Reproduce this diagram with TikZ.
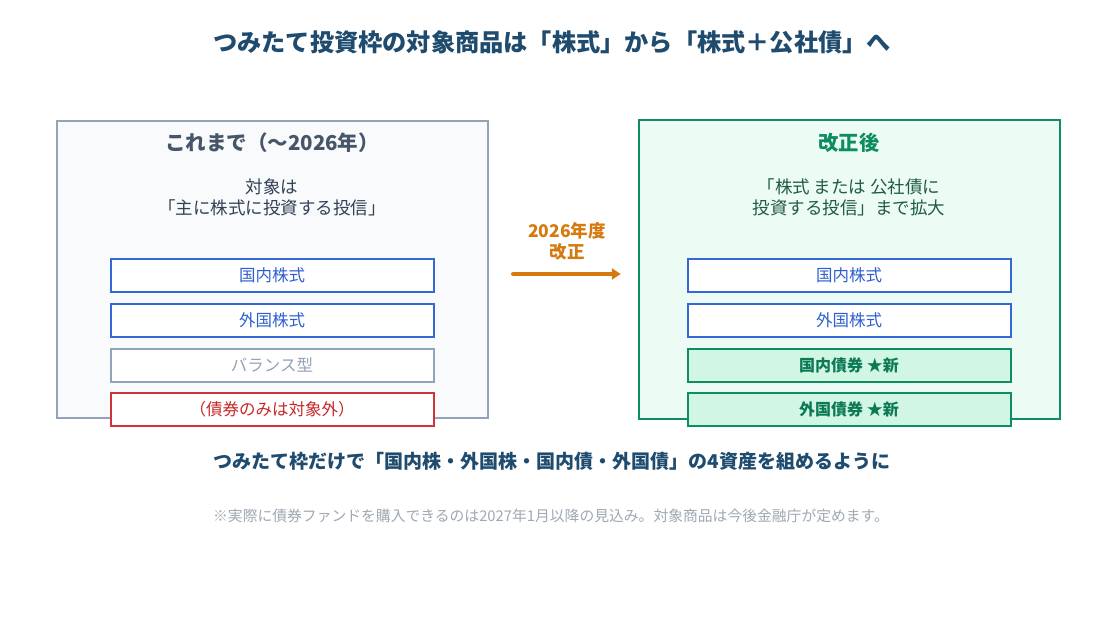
\documentclass[tikz,border=0pt]{standalone}
\usepackage{fontspec}
\setmainfont{Noto Sans CJK JP}
\usetikzlibrary{arrows.meta}
\definecolor{navy}{HTML}{1E4B6E}
\definecolor{lhead}{HTML}{475569}
\definecolor{ltext}{HTML}{334155}
\definecolor{grayb}{HTML}{94A3B8}
\definecolor{grayf}{HTML}{F8FAFC}
\definecolor{blueb}{HTML}{3567D6}
\definecolor{bluet}{HTML}{2F5FCF}
\definecolor{redb}{HTML}{D13438}
\definecolor{redt}{HTML}{C62828}
\definecolor{greenb}{HTML}{0E8C62}
\definecolor{greenf}{HTML}{ECFBF3}
\definecolor{greeni}{HTML}{D1F7E4}
\definecolor{greent}{HTML}{0D7A55}
\definecolor{rtext}{HTML}{1F5B44}
\definecolor{orange}{HTML}{D57A0F}
\definecolor{foot}{HTML}{A0A8B4}
\tikzset{
  panel/.style={draw, line width=2.5pt, minimum width=#1, inner sep=0pt},
  itembox/.style={draw, line width=2pt, fill=white, minimum width=323pt, minimum height=33pt, inner sep=0pt, font=\fontsize{16.5}{19}\selectfont},
  bluebox/.style={itembox, draw=blueb, text=bluet},
  newbox/.style={itembox, draw=greenb, fill=greeni, text=greent, font=\fontsize{16}{19}\selectfont\bfseries},
  bodytxt/.style={align=center, font=\fontsize{17.5}{21}\selectfont},
}
\begin{document}
\begin{tikzpicture}[x=1pt,y=-1pt]
\useasboundingbox (0,0) rectangle (1105,623);
\fill[white] (0,0) rectangle (1105,623);
\node[text=navy, font=\fontsize{24.2}{28}\selectfont\bfseries] (title) at (552,42) {つみたて投資枠の対象商品は「株式」から「株式＋公社債」へ};

% left panel
\node[panel=431pt, draw=grayb, fill=grayf, minimum height=297pt] (L) at (272.5,269.5) {};
\node[text=lhead, font=\fontsize{20.5}{24}\selectfont\bfseries] (Lh) at (272,143) {これまで（〜2026年）};
\node[bodytxt, text=ltext] (Lt) at (272,197) {対象は\\「主に株式に投資する投信」};
\node[bluebox] (L1) at (272,275.5) {国内株式};
\node[bluebox] (L2) at (272,320) {外国株式};
\node[itembox, draw=grayb, text=grayb] (L3) at (272,365) {バランス型};
\node[itembox, draw=redb, text=redt] (L4) at (272,409.5) {（債券のみは対象外）};

% right panel
\node[panel=421pt, draw=greenb, fill=greenf, minimum height=299pt] (R) at (849.5,269.5) {};
\node[text=greenb, font=\fontsize{20.3}{24}\selectfont\bfseries] (Rh) at (849,143) {改正後};
\node[bodytxt, text=rtext] (Rt) at (849,197) {「株式 または 公社債に\\投資する投信」まで拡大};
\node[bluebox] (R1) at (849,275.5) {国内株式};
\node[bluebox] (R2) at (849,320) {外国株式};
\node[newbox] (R3) at (849,365) {国内債券 ★新};
\node[newbox] (R4) at (849,409.5) {外国債券 ★新};

% arrow
\coordinate (A1) at ([xshift=24pt]L.east |- 0,274);
\coordinate (A2) at ([xshift=-17pt]R.west |- 0,274);
\draw[orange, line width=4.5pt, line cap=round, -{Triangle[length=9pt,width=11pt]}] (A1) -- (A2);
\node[text=orange, align=center, font=\fontsize{17.5}{21}\selectfont\bfseries] (Al) at (567,241) {2026年度\\改正};

\node[text=navy, font=\fontsize{19}{23}\selectfont\bfseries] (sum) at (552,461) {つみたて枠だけで「国内株・外国株・国内債・外国債」の4資産を組めるように};
\node[text=foot, font=\fontsize{14.8}{17}\selectfont] (fn) at (551,516) {※実際に債券ファンドを購入できるのは2027年1月以降の見込み。対象商品は今後金融庁が定めます。};
\end{tikzpicture}
\end{document}
